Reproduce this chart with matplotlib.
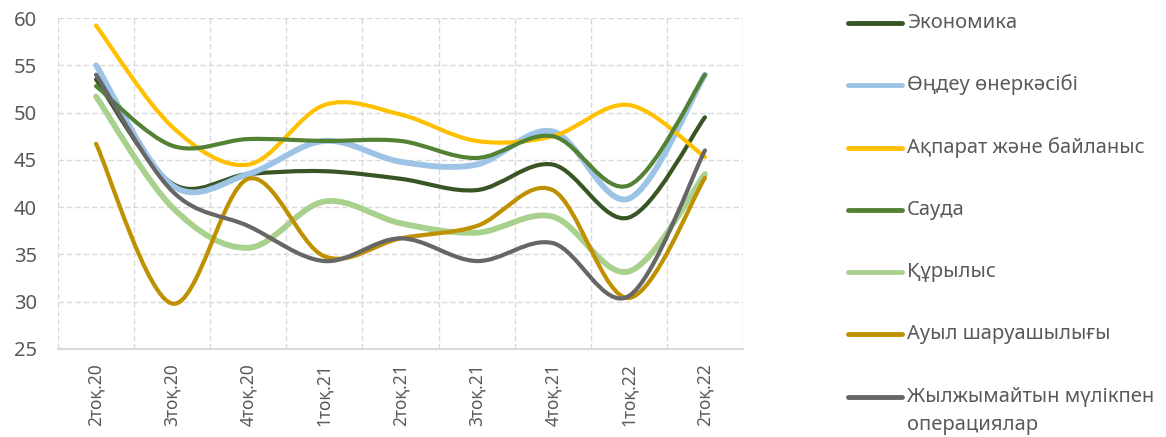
import matplotlib
matplotlib.use("Agg")
import matplotlib.pyplot as plt
from matplotlib.path import Path
from matplotlib.patches import PathPatch
from matplotlib.lines import Line2D
import numpy as np

plt.rcParams['font.family'] = ['Noto Sans', 'DejaVu Sans']

categories = ["2тоқ.20", "3тоқ.20", "4тоқ.20", "1тоқ.21", "2тоқ.21",
              "3тоқ.21", "4тоқ.21", "1тоқ.22", "2тоқ.22"]

ekonomika = [53.5, 42.5, 43.5, 43.8, 43.0, 41.8, 44.5, 38.9, 49.5]
ondeu = [55.0, 42.3, 43.5, 47.0, 44.8, 44.5, 48.0, 40.9, 54.0]
akparat = [59.2, 48.5, 44.5, 50.8, 49.8, 47.0, 47.5, 50.8, 45.3]
sauda = [52.8, 46.5, 47.2, 47.0, 47.0, 45.2, 47.5, 42.3, 54.0]
kurylys = [51.7, 40.0, 35.7, 40.6, 38.3, 37.3, 39.0, 33.2, 43.5]
auyl = [46.7, 29.8, 43.0, 34.8, 36.7, 38.0, 41.8, 30.4, 43.1]
zhylzhymaityn = [54.0, 41.7, 38.0, 34.3, 36.7, 34.3, 36.2, 30.6, 46.0]

series_names = ["Экономика", "Өңдеу өнеркәсібі", "Ақпарат және байланыс", "Сауда",
                "Құрылыс", "Ауыл шаруашылығы", "Жылжымайтын мүлікпен\nоперациялар"]
series_values = [ekonomika, ondeu, akparat, sauda, kurylys, auyl, zhylzhymaityn]
colors = ["#375623", "#9DC3E6", "#FFC000", "#548235", "#A9D18E", "#BF9000", "#666666"]
widths = [3.0, 4.2, 3.0, 3.0, 4.2, 3.0, 3.0]

fig = plt.figure(figsize=(11.66, 4.37), dpi=100)
ax = fig.add_axes([58/1166, 1-349/437, (743-58)/1166, (349-18)/437])


def smooth_path(x, y):
    pts = np.column_stack([x, y]).astype(float)
    n = len(pts)
    verts = [pts[0]]
    codes = [Path.MOVETO]
    for i in range(n - 1):
        p0 = pts[i - 1] if i > 0 else pts[i]
        p1 = pts[i]
        p2 = pts[i + 1]
        p3 = pts[i + 2] if i + 2 < n else pts[i + 1]
        c1 = p1 + (p2 - p0) / 6.0
        c2 = p2 - (p3 - p1) / 6.0
        verts += [c1, c2, p2]
        codes += [Path.CURVE4] * 3
    return Path(verts, codes)


x = np.arange(len(categories))
for vals, c, w in zip(series_values, colors, widths):
    patch = PathPatch(smooth_path(x, vals), facecolor='none', edgecolor=c,
                      lw=w, capstyle='round', joinstyle='round', zorder=3)
    ax.add_patch(patch)

ax.set_xlim(-0.5, len(categories) - 0.5)
ax.set_ylim(25, 60)
ax.set_yticks(np.arange(25, 61, 5))
ax.set_xticks(x)
ax.set_xticklabels(categories, rotation=90, fontsize=12.5, color="#595959")
ax.set_xticks(np.arange(-0.5, len(categories), 1), minor=True)
ax.tick_params(axis='y', labelsize=14.5, colors="#595959", length=0, pad=15)
ax.tick_params(axis='x', which='both', length=0, pad=10)
ax.grid(True, axis='y', which='major', color="#D9D9D9", linestyle=(0, (4, 2)), lw=1)
ax.grid(True, axis='x', which='minor', color="#D9D9D9", linestyle=(0, (4, 2)), lw=1)
ax.grid(False, axis='x', which='major')
for s in ['top', 'right', 'left']:
    ax.spines[s].set_visible(False)
ax.spines['bottom'].set_color("#D9D9D9")
ax.spines['bottom'].set_linewidth(1.5)

# legend drawn manually
leg_y = [23, 85, 148, 210, 272, 334, 397]
for name, c, yy in zip(series_names, colors, leg_y):
    fy = 1 - yy / 437
    fig.add_artist(Line2D([848/1166, 902/1166], [fy, fy], color=c, lw=3.5,
                          solid_capstyle='round', transform=fig.transFigure))
    lines = name.split("\n")
    for k, ln in enumerate(lines):
        fig.text(907/1166, 1 - (yy + 28*k) / 437, ln, fontsize=14.5, color="#595959",
                 va='center', ha='left')

fig.savefig("out.png", dpi=100)
